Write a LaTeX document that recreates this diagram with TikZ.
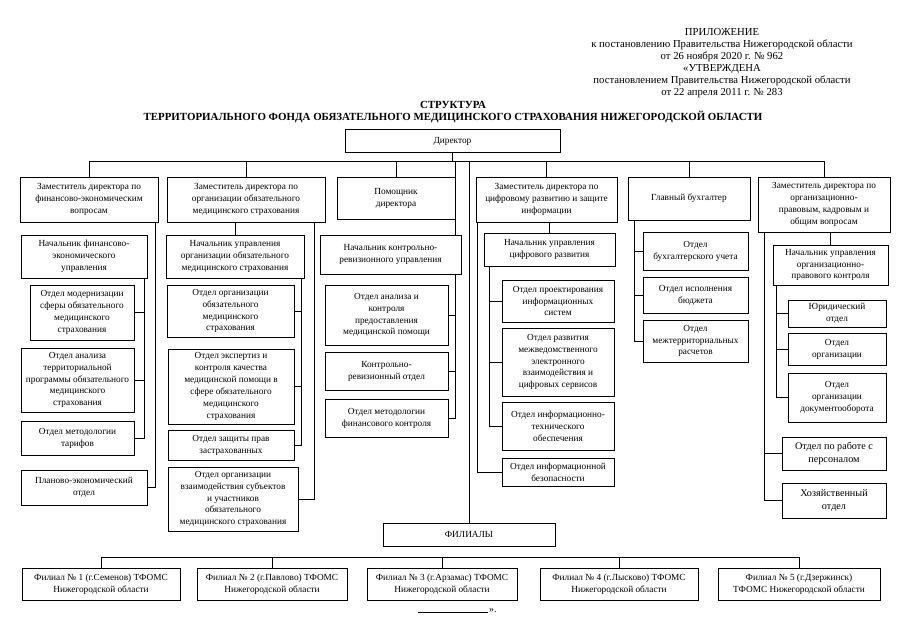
\documentclass[tikz,border=0pt]{standalone}
\usepackage{fontspec}
\setmainfont{Liberation Serif}
\begin{document}
\begin{tikzpicture}
  [x=1pt,y=-1pt,
   box/.style={draw=black,line width=0.9pt,align=center,inner sep=1pt,
     font=\fontsize{9.3}{11.9}\selectfont},
   big/.style={font=\fontsize{10.2}{13}\selectfont},
   link/.style={draw=black,line width=0.8pt}]
  \useasboundingbox (0,0) rectangle (905,640);

  % шапка
  \node[align=center,font=\fontsize{10.7}{12.1}\selectfont] (pril) at (722,63)
    {ПРИЛОЖЕНИЕ\\к постановлению Правительства Нижегородской области\\от 26 ноября 2020 г. № 962\\«УТВЕРЖДЕНА\\постановлением Правительства Нижегородской области\\от 22 апреля 2011 г. № 283};
  \node[align=center,font=\bfseries\fontsize{10.9}{12}\selectfont] (titul) at (453,112)
    {СТРУКТУРА\\ТЕРРИТОРИАЛЬНОГО ФОНДА ОБЯЗАТЕЛЬНОГО МЕДИЦИНСКОГО СТРАХОВАНИЯ НИЖЕГОРОДСКОЙ ОБЛАСТИ};

  \node[box,minimum width=215,minimum height=23] (dir) at (452.5,141) {Директор};

  % первый столбец
  \node[box,minimum width=138,minimum height=45] (dep1) at (89,199.5) {Заместитель директора по\\финансово-экономическим\\вопросам};
  \node[box,minimum width=126,minimum height=43] (nach1) at (84,256.5) {Начальник финансово-\\экономического\\управления};
  \node[box,minimum width=104,minimum height=55] (otd11) at (82,312.5) {Отдел модернизации\\сферы обязательного\\медицинского\\страхования};
  \node[box,minimum width=113,minimum height=64] (otd12) at (77.5,380) {Отдел анализа\\территориальной\\программы обязательного\\медицинского\\страхования};
  \node[box,minimum width=113,minimum height=34] (otd13) at (77.5,438) {Отдел методологии\\тарифов};
  \node[box,minimum width=126,minimum height=35] (otd14) at (84,487.5) {Планово-экономический\\отдел};

  % второй столбец
  \node[box,minimum width=158,minimum height=45] (dep2) at (246,199.5) {Заместитель директора по\\организации обязательного\\медицинского страхования};
  \node[box,minimum width=138,minimum height=43] (nach2) at (235,256.5) {Начальник управления\\организации обязательного\\медицинского страхования};
  \node[box,minimum width=127,minimum height=52] (otd21) at (230.5,311) {Отдел организации\\обязательного\\медицинского\\страхования};
  \node[box,minimum width=126,minimum height=75] (otd22) at (231,386.5) {Отдел экспертиз и\\контроля качества\\медицинской помощи в\\сфере обязательного\\медицинского\\страхования};
  \node[box,minimum width=126,minimum height=30] (otd23) at (231,445) {Отдел защиты прав\\застрахованных};
  \node[box,minimum width=130,minimum height=64] (otd24) at (233,499) {Отдел организации\\взаимодействия субъектов\\и участников\\обязательного\\медицинского страхования};

  % третий столбец
  \node[box,minimum width=118,minimum height=42] (pom) at (396,198) {Помощник\\директора};
  \node[box,minimum width=141,minimum height=39] (nach3) at (390.5,254.5) {Начальник контрольно-\\ревизионного управления};
  \node[box,minimum width=123,minimum height=60] (otd31) at (386.5,315) {Отдел анализа и\\контроля\\предоставления\\медицинской помощи};
  \node[box,minimum width=123,minimum height=38] (otd32) at (386.5,371) {Контрольно-\\ревизионный отдел};
  \node[box,minimum width=123,minimum height=38] (otd33) at (386.5,418) {Отдел методологии\\финансового контроля};

  % четвертый столбец
  \node[box,minimum width=141,minimum height=45] (dep4) at (546.5,199.5) {Заместитель директора по\\цифровому развитию и защите\\информации};
  \node[box,minimum width=131,minimum height=33] (nach4) at (549.5,249.5) {Начальник управления\\цифрового развития};
  \node[box,minimum width=112,minimum height=42] (otd41) at (558,301) {Отдел проектирования\\информационных\\систем};
  \node[box,minimum width=112,minimum height=68] (otd42) at (558,362) {Отдел развития\\межведомственного\\электронного\\взаимодействия и\\цифровых сервисов};
  \node[box,minimum width=112,minimum height=48] (otd43) at (558,426) {Отдел информационно-\\технического\\обеспечения};
  \node[box,minimum width=112,minimum height=28] (otd44) at (558,472) {Отдел информационной\\безопасности};

  % пятый столбец
  \node[box,minimum width=122,minimum height=43] (buh) at (689,198.5) {Главный бухгалтер};
  \node[box,minimum width=105,minimum height=38] (otd51) at (695.5,251) {Отдел\\бухгалтерского учета};
  \node[box,minimum width=105,minimum height=36] (otd52) at (695.5,295) {Отдел исполнения\\бюджета};
  \node[box,minimum width=105,minimum height=42] (otd53) at (695.5,341) {Отдел\\межтерриториальных\\расчетов};

  % шестой столбец
  \node[box,minimum width=132,minimum height=55] (dep6) at (824,204.5) {Заместитель директора по\\организационно-\\правовым, кадровым и\\общим вопросам};
  \node[box,minimum width=115,minimum height=40] (nach6) at (830.5,265) {Начальник управления\\организационно-\\правового контроля};
  \node[box,minimum width=98,minimum height=27] (otd61) at (837,313.5) {Юридический\\отдел};
  \node[box,minimum width=98,minimum height=32] (otd62) at (837,349) {Отдел\\организации};
  \node[box,minimum width=98,minimum height=49] (otd63) at (837,397.5) {Отдел\\организации\\документооборота};
  \node[box,big,minimum width=104,minimum height=33] (otd64) at (834,453.5) {Отдел по работе с\\персоналом};
  \node[box,big,minimum width=104,minimum height=35] (otd65) at (834,500.5) {Хозяйственный\\отдел};

  % филиалы
  \node[box,minimum width=172,minimum height=23] (fil) at (469,534.5) {ФИЛИАЛЫ};
  \node[box,minimum width=158,minimum height=32] (fil1) at (101,584) {Филиал № 1 (г.Семенов) ТФОМС\\Нижегородской области};
  \node[box,minimum width=150,minimum height=32] (fil2) at (272,584) {Филиал № 2 (г.Павлово) ТФОМС\\Нижегородской области};
  \node[box,minimum width=150,minimum height=32] (fil3) at (442,584) {Филиал № 3 (г.Арзамас) ТФОМС\\Нижегородской области};
  \node[box,minimum width=158,minimum height=32] (fil4) at (619,584) {Филиал № 4 (г.Лысково) ТФОМС\\Нижегородской области};
  \node[box,minimum width=162,minimum height=32] (fil5) at (799,584) {Филиал № 5 (г.Дзержинск)\\ТФОМС Нижегородской области};

  % шины
  \coordinate (bus) at (0,161);
  \coordinate (fbus) at (0,557);
  \draw[link] (dep1.north |- bus) -- (dep6.north |- bus);
  \foreach \n in {dep1,dep2,pom,dep4,buh,dep6,fil}
    \draw[link] (\n.north) -- (\n.north |- bus);
  \draw[link] (dir.south) -- (dir.south |- bus);
  \draw[link] (fil1.north |- fbus) -- (fil5.north |- fbus);
  \foreach \n in {fil1,fil2,fil3,fil4,fil5}
    \draw[link] (\n.north) -- (\n.north |- fbus);

  \foreach \up/\dn in {dep2/nach2,dep4/nach4,dep6/nach6}
    \draw[link] (\dn.north) -- (\dn.north |- \up.south);

  \foreach \n in {otd11,otd12,otd13}
    \draw[link] ([xshift=-3pt]nach1.south east) |- (\n.east);
  \draw[link] ([xshift=-3pt]dep1.south east) |- (otd14.east);
  \foreach \n in {otd21,otd22,otd23}
    \draw[link] ([xshift=-3pt]nach2.south east) |- (\n.east);
  \draw[link] ([xshift=-11pt]dep2.south east) |- (otd24.east);

  \draw[link] (pom.north east |- bus) -- (pom.north east);
  \draw[link] (pom.south east) -- (pom.south east |- nach3.north);
  \foreach \n in {otd31,otd32,otd33}
    \draw[link] (pom.east |- nach3.south) |- (\n.east);

  \foreach \n in {otd41,otd42,otd43}
    \draw[link] ([xshift=6pt]nach4.south west) |- (\n.west);
  \draw[link] ([xshift=2pt]dep4.south west) |- (otd44.west);
  \foreach \n in {otd51,otd52,otd53}
    \draw[link] ([xshift=7pt]buh.south west) |- (\n.west);
  \foreach \n in {otd61,otd62,otd63}
    \draw[link] ([xshift=4pt]nach6.south west) |- (\n.west);
  \foreach \n in {otd64,otd65}
    \draw[link] ([xshift=7pt]dep6.south west) |- (\n.west);

  \coordinate (podp1) at (418,612);
  \coordinate (podp2) at (488,612);
  \draw[line width=0.6pt] (podp1) -- (podp2);
  \node[anchor=base west,inner sep=1pt,font=\fontsize{10}{12}\selectfont] (kav) at (podp2) {».};
\end{tikzpicture}
\end{document}
